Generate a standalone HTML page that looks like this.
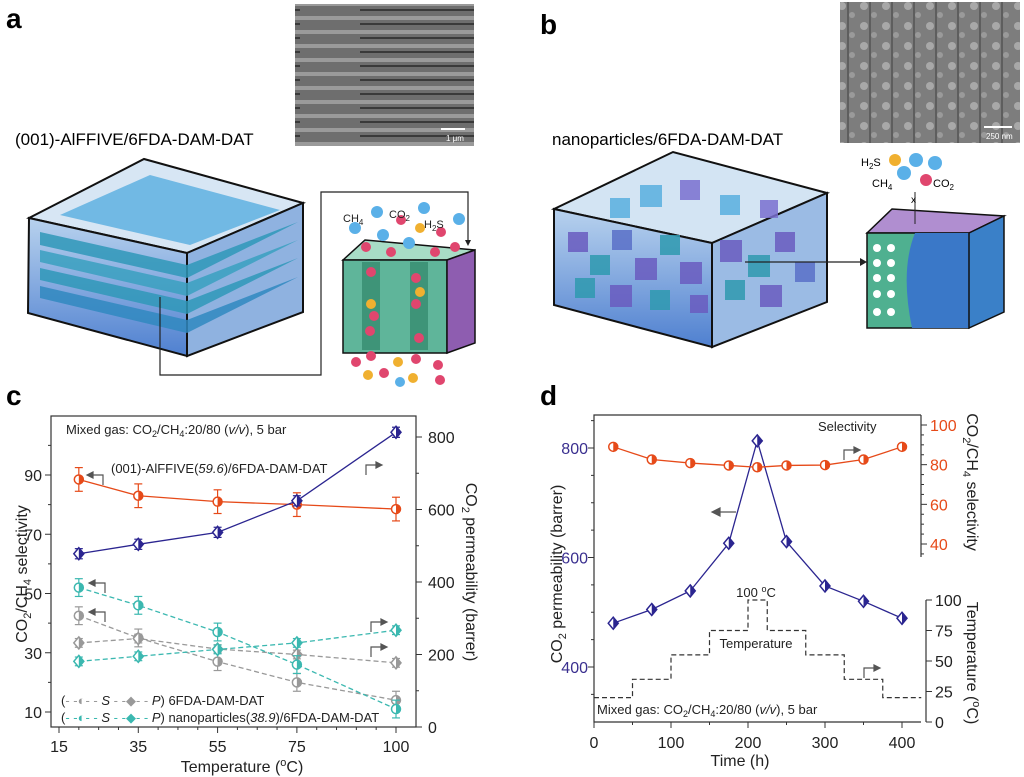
<!DOCTYPE html>
<html><head><meta charset="utf-8"><style>
html,body{margin:0;padding:0;background:#fff;}
svg{display:block;font-family:"Liberation Sans",Arial,sans-serif;}
</style></head><body>
<svg id="fig" width="1024" height="777" viewBox="0 0 1024 777" xmlns="http://www.w3.org/2000/svg">
<defs>
<pattern id="stripes" width="180" height="14" patternUnits="userSpaceOnUse"><rect width="180" height="14" fill="#6e6e6e"/><rect y="2" width="180" height="4" fill="#9a9a9a"/><rect y="9" width="120" height="2" fill="#3a3a3a"/></pattern>
<pattern id="dots" width="22" height="20" patternUnits="userSpaceOnUse"><rect width="22" height="20" fill="#7d7d7d"/><circle cx="6" cy="6" r="4" fill="#a8a8a8"/><circle cx="16" cy="15" r="3" fill="#9a9a9a"/><rect x="11" y="0" width="2" height="20" fill="#5e5e5e"/></pattern>
<linearGradient id="boxg" x1="0" y1="0" x2="0" y2="1"><stop offset="0" stop-color="#b8d2ee"/><stop offset="1" stop-color="#4f80d0"/></linearGradient>
</defs>

<!-- Panel a -->
<g>
<text x="6" y="28" font-size="28" font-weight="bold">a</text>
<rect x="295" y="4" width="179" height="142" fill="url(#stripes)"/>
<line x1="441" y1="129" x2="465" y2="129" stroke="#fff" stroke-width="2"/>
<text x="446" y="141" font-size="8" fill="#fff">1 μm</text>
<text x="15" y="145" font-size="17">(001)-AlFFIVE/6FDA-DAM-DAT</text>
<g>
<polygon points="29,218 144,159 303,203 187,253" fill="#d7e6f4" stroke="#111" stroke-width="2"/>
<polygon points="29,218 187,253 187,356 28,313" fill="url(#boxg)" stroke="#111" stroke-width="2"/>
<polygon points="187,253 303,203 303,312 187,356" fill="#8fb2e0" stroke="#111" stroke-width="2"/>
<polygon points="60,215 150,175 280,210 190,245" fill="#5fb0e0" opacity="0.85"/>
<polygon points="40,232 187,265 298,222 187,278 40,245" fill="#2f98b8" opacity="0.85"/>
<polygon points="40,250 187,283 298,240 187,296 40,262" fill="#3aa0c0" opacity="0.85"/>
<polygon points="40,268 187,301 298,258 187,314 40,280" fill="#2f98b8" opacity="0.85"/>
<polygon points="40,286 187,320 298,277 187,333 40,298" fill="#3088c0" opacity="0.85"/>
</g>
<polyline points="160,297 160,375 321,375 321,192 468,192 468,243" fill="none" stroke="#222" stroke-width="1.2"/>
<polygon points="465,240 471,240 468,246" fill="#222"/>
<g>
<polygon points="343,260 365,240 475,250 447,260" fill="#a8dcc6" stroke="#111" stroke-width="1.5"/>
<rect x="343" y="260" width="104" height="93" fill="#5fb59a" stroke="#111" stroke-width="1.5"/>
<polygon points="447,260 475,250 475,343 447,353" fill="#8e5db0" stroke="#111" stroke-width="1.5"/>
<rect x="362" y="262" width="18" height="88" fill="#3e9478"/><rect x="410" y="262" width="18" height="88" fill="#3e9478"/>
</g>
<g>
<circle cx="377" cy="212" r="6" fill="#5ab0e8"/><circle cx="355" cy="228" r="6" fill="#5ab0e8"/><circle cx="383" cy="235" r="6" fill="#5ab0e8"/><circle cx="424" cy="208" r="6" fill="#5ab0e8"/><circle cx="459" cy="219" r="6" fill="#5ab0e8"/><circle cx="409" cy="243" r="6" fill="#5ab0e8"/>
<circle cx="401" cy="220" r="5" fill="#e0466e"/><circle cx="441" cy="232" r="5" fill="#e0466e"/><circle cx="366" cy="247" r="5" fill="#e0466e"/><circle cx="391" cy="252" r="5" fill="#e0466e"/><circle cx="435" cy="252" r="5" fill="#e0466e"/><circle cx="455" cy="247" r="5" fill="#e0466e"/>
<circle cx="420" cy="228" r="5" fill="#f0b030"/>
<circle cx="371" cy="272" r="5" fill="#e0466e"/><circle cx="416" cy="278" r="5" fill="#e0466e"/><circle cx="420" cy="292" r="5" fill="#f0b030"/><circle cx="371" cy="304" r="5" fill="#f0b030"/><circle cx="374" cy="316" r="5" fill="#e0466e"/><circle cx="416" cy="304" r="5" fill="#e0466e"/><circle cx="370" cy="331" r="5" fill="#e0466e"/><circle cx="419" cy="338" r="5" fill="#e0466e"/>
<circle cx="356" cy="362" r="5" fill="#e0466e"/><circle cx="371" cy="356" r="5" fill="#e0466e"/><circle cx="398" cy="362" r="5" fill="#f0b030"/><circle cx="416" cy="359" r="5" fill="#e0466e"/><circle cx="438" cy="365" r="5" fill="#e0466e"/><circle cx="368" cy="375" r="5" fill="#f0b030"/><circle cx="384" cy="373" r="5" fill="#e0466e"/><circle cx="400" cy="382" r="5" fill="#5ab0e8"/><circle cx="413" cy="378" r="5" fill="#f0b030"/><circle cx="440" cy="380" r="5" fill="#e0466e"/>
</g>
<text x="343" y="222" font-size="11" fill="#222">CH<tspan font-size="8" dy="3">4</tspan></text>
<text x="389" y="218" font-size="11" fill="#222">CO<tspan font-size="8" dy="3">2</tspan></text>
<text x="424" y="228" font-size="11" fill="#222">H<tspan font-size="8" dy="3">2</tspan><tspan dy="-3">S</tspan></text>
</g>

<!-- Panel b -->
<g>
<text x="540" y="34" font-size="28" font-weight="bold">b</text>
<rect x="840" y="2" width="180" height="141" fill="url(#dots)"/>
<line x1="984" y1="127" x2="1012" y2="127" stroke="#fff" stroke-width="2"/>
<text x="986" y="139" font-size="8" fill="#fff">250 nm</text>
<text x="552" y="145" font-size="17">nanoparticles/6FDA-DAM-DAT</text>
<g>
<polygon points="554,209 673,152 827,193 712,243" fill="#d3e4f3" stroke="#111" stroke-width="2"/>
<polygon points="554,209 712,243 712,347 554,305" fill="url(#boxg)" stroke="#111" stroke-width="2"/>
<polygon points="712,243 827,193 827,302 712,347" fill="#9bbbe4" stroke="#111" stroke-width="2"/>
<g opacity="0.85">
<rect x="568" y="232" width="20" height="20" fill="#6a5cc0"/><rect x="590" y="255" width="20" height="20" fill="#2f9ab0"/><rect x="612" y="230" width="20" height="20" fill="#5a70c8"/><rect x="635" y="258" width="22" height="22" fill="#6a5cc0"/><rect x="660" y="235" width="20" height="20" fill="#2f9ab0"/><rect x="680" y="262" width="22" height="22" fill="#6a5cc0"/><rect x="575" y="278" width="20" height="20" fill="#2f9ab0"/><rect x="610" y="285" width="22" height="22" fill="#6a5cc0"/><rect x="650" y="290" width="20" height="20" fill="#2f9ab0"/><rect x="690" y="295" width="18" height="18" fill="#6a5cc0"/>
<rect x="720" y="240" width="22" height="22" fill="#6a5cc0"/><rect x="748" y="255" width="22" height="22" fill="#2f9ab0"/><rect x="775" y="232" width="20" height="20" fill="#6a5cc0"/><rect x="725" y="280" width="20" height="20" fill="#2f9ab0"/><rect x="760" y="285" width="22" height="22" fill="#6a5cc0"/><rect x="795" y="262" width="20" height="20" fill="#5a70c8"/>
<rect x="640" y="185" width="22" height="22" fill="#5ab0e0"/><rect x="680" y="180" width="20" height="20" fill="#7a70d0"/><rect x="610" y="198" width="20" height="20" fill="#5ab0e0"/><rect x="720" y="195" width="20" height="20" fill="#5ab0e0"/><rect x="760" y="200" width="18" height="18" fill="#7a70d0"/>
</g>
</g>
<line x1="745" y1="262" x2="860" y2="262" stroke="#222" stroke-width="1.2"/>
<polygon points="860,258 867,262 860,266" fill="#222"/>
<g>
<polygon points="867,233 892,209 1004,216 969,233" fill="#b08ed0" stroke="#111" stroke-width="1.5"/>
<rect x="867" y="233" width="102" height="95" fill="#4fb090" stroke="#111" stroke-width="1.5"/>
<path d="M915,233 Q900,270 912,328 L969,328 L969,233 Z" fill="#3a78c8"/>
<polygon points="969,233 1004,216 1004,312 969,328" fill="#3a80c8" stroke="#111" stroke-width="1.5"/>
<g fill="#fff"><circle cx="877" cy="248" r="4"/><circle cx="891" cy="248" r="4"/><circle cx="877" cy="263" r="4"/><circle cx="891" cy="263" r="4"/><circle cx="877" cy="278" r="4"/><circle cx="891" cy="278" r="4"/><circle cx="877" cy="294" r="4"/><circle cx="891" cy="294" r="4"/><circle cx="877" cy="312" r="4"/><circle cx="891" cy="312" r="4"/></g>
</g>
<circle cx="895" cy="160" r="6" fill="#f0b030"/><circle cx="916" cy="160" r="7" fill="#5ab0e8"/><circle cx="935" cy="163" r="7" fill="#5ab0e8"/><circle cx="904" cy="173" r="7" fill="#5ab0e8"/><circle cx="926" cy="180" r="6" fill="#e0466e"/>
<text x="861" y="166" font-size="11">H<tspan font-size="8" dy="3">2</tspan><tspan dy="-3">S</tspan></text>
<text x="872" y="187" font-size="11">CH<tspan font-size="8" dy="3">4</tspan></text>
<text x="933" y="187" font-size="11">CO<tspan font-size="8" dy="3">2</tspan></text>
<line x1="915" y1="192" x2="915" y2="224" stroke="#222"/><text x="911" y="203" font-size="10">x</text>
</g>

<!-- Panel c -->
<g id="pc">
<text x="6" y="405" font-size="28" font-weight="bold">c</text>
</g>
<!-- Panel d -->
<g id="pd">
<text x="540" y="405" font-size="28" font-weight="bold">d</text>
</g>
</svg>
<script>
// ---- Panel c data ----
const cTemps = [20, 35, 55, 75, 100];
const cXTicks = [15, 35, 55, 75, 100];
const cLeftTicks = [10, 30, 50, 70, 90];
const cRightTicks = [0, 200, 400, 600, 800];
const alffiveS = [88.5, 83, 81, 80, 78.5];
const alffiveP = [478, 504, 537, 624, 813];
const pureS = [42.5, 35, 27, 20, 14];
const pureP = [232, 244, 215, 200, 177];
const nanoS = [52, 46, 37, 26, 11];
const nanoP = [181, 195, 214, 232, 267];
// ---- Panel d data ----
const dTimes = [25, 75, 125, 175, 212, 250, 300, 350, 400];
const dPerm = [480, 505, 539, 626, 813, 629, 548, 520, 489];
const dSel = [89, 82.6, 80.8, 79.6, 78.7, 79.6, 79.8, 82.6, 89];
const tempStepStart = [0, 50, 100, 150, 200, 225, 275, 325, 375];
const tempStepValue = [20, 35, 55, 75, 100, 75, 55, 35, 20];
const dXTicks = [0, 100, 200, 300, 400];
const dLeftTicks = [400, 600, 800];
const dSelTicks = [40, 60, 80, 100];
const dTempTicks = [0, 25, 50, 75, 100];

const NS = "http://www.w3.org/2000/svg";
function mk(parent, tag, attrs, text) {
  const e = document.createElementNS(NS, tag);
  for (const k in attrs) e.setAttribute(k, attrs[k]);
  if (text !== undefined) e.textContent = text;
  parent.appendChild(e);
  return e;
}
function lin(d0, d1, r0, r1) { return v => r0 + (v - d0) * (r1 - r0) / (d1 - d0); }

// ========== Panel C ==========
const pc = document.getElementById('pc');
const cx = lin(15, 100, 59, 396);
const cyL = lin(10, 90, 712, 475);
const cyR = lin(0, 800, 727, 437);
const frameC = mk(pc, 'rect', {x: 51, y: 416, width: 365, height: 311, fill: 'none', stroke: '#333', 'stroke-width': 1.2});


for (let t = 15; t <= 100; t += 5) {
  const major = cXTicks.includes(t);
  mk(pc, 'line', {x1: cx(t), x2: cx(t), y1: 727, y2: 727 + (major ? 6 : 3), stroke: '#333'});
}
cXTicks.forEach(t => {
  const e = mk(pc, 'text', {x: cx(t), y: 752, 'font-size': 16, 'text-anchor': 'middle', fill: '#222'}, t);
  
  
});
cLeftTicks.forEach(v => {
  mk(pc, 'line', {x1: 45, x2: 51, y1: cyL(v), y2: cyL(v), stroke: '#333'});
  const e = mk(pc, 'text', {x: 42, y: cyL(v) + 6, 'font-size': 16, 'text-anchor': 'end', fill: '#222'}, v);
  
  
});
for (let v = 20; v <= 100; v += 20) if (!cLeftTicks.includes(v)) mk(pc, 'line', {x1: 48, x2: 51, y1: cyL(v), y2: cyL(v), stroke: '#333'});
cRightTicks.forEach(v => {
  mk(pc, 'line', {x1: 416, x2: 422, y1: cyR(v), y2: cyR(v), stroke: '#333'});
  const e = mk(pc, 'text', {x: 428, y: cyR(v) + 6, 'font-size': 16, fill: '#222'}, v);
  
  
});
for (let v = 100; v <= 800; v += 200) mk(pc, 'line', {x1: 416, x2: 419, y1: cyR(v), y2: cyR(v), stroke: '#333'});
let t1 = mk(pc, 'text', {x: 0, y: 0, 'font-size': 16, 'text-anchor': 'middle', transform: 'translate(27,574) rotate(-90)', fill: '#222'});
t1.innerHTML = 'CO<tspan font-size="11" dy="4">2</tspan><tspan dy="-4">/CH</tspan><tspan font-size="11" dy="4">4</tspan><tspan dy="-4"> selectivity</tspan>';


let t2 = mk(pc, 'text', {x: 0, y: 0, 'font-size': 16, 'text-anchor': 'middle', transform: 'translate(466,572) rotate(90)', fill: '#222'});
t2.innerHTML = 'CO<tspan font-size="11" dy="4">2</tspan><tspan dy="-4"> permeability (barrer)</tspan>';


let t3 = mk(pc, 'text', {x: 242, y: 772, 'font-size': 16, 'text-anchor': 'middle', fill: '#222'});
t3.innerHTML = 'Temperature (<tspan font-size="11" dy="-6">o</tspan><tspan dy="6">C)</tspan>';


let t4 = mk(pc, 'text', {x: 66, y: 434, 'font-size': 13, fill: '#222'});
t4.innerHTML = 'Mixed gas: CO<tspan font-size="9" dy="3">2</tspan><tspan dy="-3">/CH</tspan><tspan font-size="9" dy="3">4</tspan><tspan dy="-3">:20/80 (</tspan><tspan font-style="italic">v/v</tspan>), 5 bar';


let t5 = mk(pc, 'text', {x: 111, y: 473, 'font-size': 13, fill: '#222'});
t5.innerHTML = '(001)-AlFFIVE(<tspan font-style="italic">59.6</tspan>)/6FDA-DAM-DAT';


let l1 = mk(pc, 'text', {x: 61, y: 705, 'font-size': 13, fill: '#222'});
l1.innerHTML = '(<tspan fill="#999">- -◐- -</tspan> <tspan font-style="italic">S</tspan>  <tspan fill="#999">- -◆- -</tspan> <tspan font-style="italic">P</tspan>) 6FDA-DAM-DAT';


let l2 = mk(pc, 'text', {x: 61, y: 722, 'font-size': 13, fill: '#222'});
l2.innerHTML = '(<tspan fill="#3bb8b0">- -◐- -</tspan> <tspan font-style="italic">S</tspan>  <tspan fill="#3bb8b0">- -◆- -</tspan> <tspan font-style="italic">P</tspan>) nanoparticles(<tspan font-style="italic">38.9</tspan>)/6FDA-DAM-DAT';



function series(parent, xs, ys, xf, yf, color, shape, dashed, name, err) {
  const g = mk(parent, 'g', {});
  
  
  const pts = xs.map((x, i) => xf(x) + ',' + yf(ys[i])).join(' ');
  mk(g, 'polyline', {points: pts, fill: 'none', stroke: color, 'stroke-width': 1.3, 'stroke-dasharray': dashed ? '5,3' : 'none'});
  xs.forEach((x, i) => {
    const px = xf(x), py = yf(ys[i]);
    if (err) {
      const a = yf(ys[i] + err), b = yf(ys[i] - err);
      mk(g, 'line', {x1: px, x2: px, y1: a, y2: b, stroke: color, 'stroke-width': 1.2});
      mk(g, 'line', {x1: px - 4, x2: px + 4, y1: a, y2: a, stroke: color, 'stroke-width': 1.2});
      mk(g, 'line', {x1: px - 4, x2: px + 4, y1: b, y2: b, stroke: color, 'stroke-width': 1.2});
    }
    let m;
    if (shape === 'circle') {
      m = mk(g, 'circle', {cx: px, cy: py, r: 4.5, fill: '#fff', stroke: color, 'stroke-width': 1.5});
      mk(g, 'path', {d: `M${px},${py - 4.5} A4.5,4.5 0 0 1 ${px},${py + 4.5} Z`, fill: color});
    } else {
      m = mk(g, 'polygon', {points: `${px},${py - 6} ${px + 5},${py} ${px},${py + 6} ${px - 5},${py}`, fill: '#fff', stroke: color, 'stroke-width': 1.5});
      mk(g, 'polygon', {points: `${px},${py - 6} ${px + 5},${py} ${px},${py + 6}`, fill: color});
    }
    
    
  });
}
series(pc, cTemps, pureS, cx, cyL, '#999', 'circle', true, 'series-pure-selectivity', 3);
series(pc, cTemps, pureP, cx, cyR, '#999', 'diamond', true, 'series-pure-permeability', 12);
series(pc, cTemps, nanoS, cx, cyL, '#3bb8b0', 'circle', true, 'series-nano-selectivity', 3);
series(pc, cTemps, nanoP, cx, cyR, '#3bb8b0', 'diamond', true, 'series-nano-permeability', 12);
series(pc, cTemps, alffiveS, cx, cyL, '#e64a19', 'circle', false, 'series-alffive-selectivity', 4);
series(pc, cTemps, alffiveP, cx, cyR, '#2b2590', 'diamond', false, 'series-alffive-permeability', 14);

function arrow(parent, x, y, dir, name) {
  const g = mk(parent, 'g', {stroke: '#555', fill: '#555', 'stroke-width': 1.2});
  
  
  if (dir < 0) {
    mk(g, 'polyline', {points: `${x},${y + 10} ${x},${y} ${x - 12},${y}`, fill: 'none'});
    mk(g, 'polygon', {points: `${x - 16},${y} ${x - 10},${y - 3} ${x - 10},${y + 3}`});
  } else {
    mk(g, 'polyline', {points: `${x},${y + 10} ${x},${y} ${x + 12},${y}`, fill: 'none'});
    mk(g, 'polygon', {points: `${x + 16},${y} ${x + 10},${y - 3} ${x + 10},${y + 3}`});
  }
}
arrow(pc, 103, 475, -1, 'arrow-left-alffive');
arrow(pc, 366, 465, 1, 'arrow-right-alffive');
arrow(pc, 105, 583, -1, 'arrow-left-nano');
arrow(pc, 105, 612, -1, 'arrow-left-pure');
arrow(pc, 371, 622, 1, 'arrow-right-nano');
arrow(pc, 371, 647, 1, 'arrow-right-pure');

// ========== Panel D ==========
const pd = document.getElementById('pd');
const dx = lin(0, 400, 594, 902);
const dyL = lin(400, 800, 667, 448);
const dyS = lin(40, 100, 544, 425);
const dyT = lin(0, 100, 722, 600);
mk(pd, 'polyline', {points: '921,415 594,415 594,722 921,722', fill: 'none', stroke: '#333', 'stroke-width': 1.2});
mk(pd, 'line', {x1: 921, x2: 921, y1: 415, y2: 557, stroke: '#333', 'stroke-width': 1.2});
mk(pd, 'line', {x1: 926, x2: 926, y1: 600, y2: 722, stroke: '#333', 'stroke-width': 1.2});
for (let t = 0; t <= 400; t += 50) mk(pd, 'line', {x1: dx(t), x2: dx(t), y1: 722, y2: 722 + (t % 100 ? 3 : 6), stroke: '#333'});
dXTicks.forEach(t => {
  const e = mk(pd, 'text', {x: dx(t), y: 748, 'font-size': 16, 'text-anchor': 'middle', fill: '#222'}, t);
  
  
});
for (let v = 350; v <= 850; v += 50) {
  if (dyL(v) < 415 || dyL(v) > 722) continue;
  mk(pd, 'line', {x1: 594 - (v % 200 ? 3 : 6), x2: 594, y1: dyL(v), y2: dyL(v), stroke: '#333'});
}
dLeftTicks.forEach(v => {
  const e = mk(pd, 'text', {x: 588, y: dyL(v) + 6, 'font-size': 16, 'text-anchor': 'end', fill: '#3a2f8f'}, v);
  
  
});
for (let v = 20; v <= 100; v += 5) {
  if (dyS(v) > 557) continue;
  mk(pd, 'line', {x1: 921, x2: 921 + (v % 20 ? 3 : 6), y1: dyS(v), y2: dyS(v), stroke: '#333'});
}
dSelTicks.forEach(v => {
  const e = mk(pd, 'text', {x: 930, y: dyS(v) + 6, 'font-size': 16, fill: '#e64a19'}, v);
  
  
});
dTempTicks.forEach(v => {
  mk(pd, 'line', {x1: 926, x2: 932, y1: dyT(v), y2: dyT(v), stroke: '#333'});
  const e = mk(pd, 'text', {x: 935, y: dyT(v) + 6, 'font-size': 16, fill: '#222'}, v);
  
  
});
let d1 = mk(pd, 'text', {x: 0, y: 0, 'font-size': 16, 'text-anchor': 'middle', transform: 'translate(562,574) rotate(-90)', fill: '#222'});
d1.innerHTML = 'CO<tspan font-size="11" dy="4">2</tspan><tspan dy="-4"> permeability (barrer)</tspan>';


let d2 = mk(pd, 'text', {x: 0, y: 0, 'font-size': 16, 'text-anchor': 'middle', transform: 'translate(967,482) rotate(90)', fill: '#222'});
d2.innerHTML = 'CO<tspan font-size="11" dy="4">2</tspan><tspan dy="-4">/CH</tspan><tspan font-size="11" dy="4">4</tspan><tspan dy="-4"> selectivity</tspan>';


let d3 = mk(pd, 'text', {x: 0, y: 0, 'font-size': 16, 'text-anchor': 'middle', transform: 'translate(967,663) rotate(90)', fill: '#222'});
d3.innerHTML = 'Temperature (<tspan font-size="11" dy="-6">o</tspan><tspan dy="6">C)</tspan>';


let d4 = mk(pd, 'text', {x: 740, y: 766, 'font-size': 16, 'text-anchor': 'middle', fill: '#222'}, 'Time (h)');


let d5 = mk(pd, 'text', {x: 597, y: 714, 'font-size': 13, fill: '#222'});
d5.innerHTML = 'Mixed gas: CO<tspan font-size="9" dy="3">2</tspan><tspan dy="-3">/CH</tspan><tspan font-size="9" dy="3">4</tspan><tspan dy="-3">:20/80 (</tspan><tspan font-style="italic">v/v</tspan>), 5 bar';


let d6 = mk(pd, 'text', {x: 818, y: 431, 'font-size': 13, fill: '#222'}, 'Selectivity');


let d7 = mk(pd, 'text', {x: 756, y: 597, 'font-size': 13, 'text-anchor': 'middle', fill: '#222'});
d7.innerHTML = '100 <tspan font-size="9" dy="-5">o</tspan><tspan dy="5">C</tspan>';


let d8 = mk(pd, 'text', {x: 756, y: 648, 'font-size': 13, 'text-anchor': 'middle', fill: '#222'}, 'Temperature');



let tp = '';
tempStepStart.forEach((s, i) => {
  const e = i + 1 < tempStepStart.length ? tempStepStart[i + 1] : 425;
  tp += (i === 0 ? 'M' : 'L') + dx(s) + ',' + dyT(tempStepValue[i]) + ' L' + dx(e) + ',' + dyT(tempStepValue[i]) + ' ';
});
const tl = mk(pd, 'path', {d: tp, fill: 'none', stroke: '#333', 'stroke-width': 1.2, 'stroke-dasharray': '5,3'});


series(pd, dTimes, dPerm, dx, dyL, '#2b2590', 'diamond', false, 'series-permeability-d', 0);
series(pd, dTimes, dSel, dx, dyS, '#e64a19', 'circle', false, 'series-selectivity-d', 0);
const ga = mk(pd, 'g', {stroke: '#555', fill: '#555', 'stroke-width': 1.2});


mk(ga, 'line', {x1: 736, x2: 718, y1: 512, y2: 512});
mk(ga, 'polygon', {points: '712,512 720,508 720,516'});
arrow(pd, 844, 450, 1, 'arrow-right-selectivity');
arrow(pd, 864, 668, 1, 'arrow-right-temperature');
</script>
</body></html>
